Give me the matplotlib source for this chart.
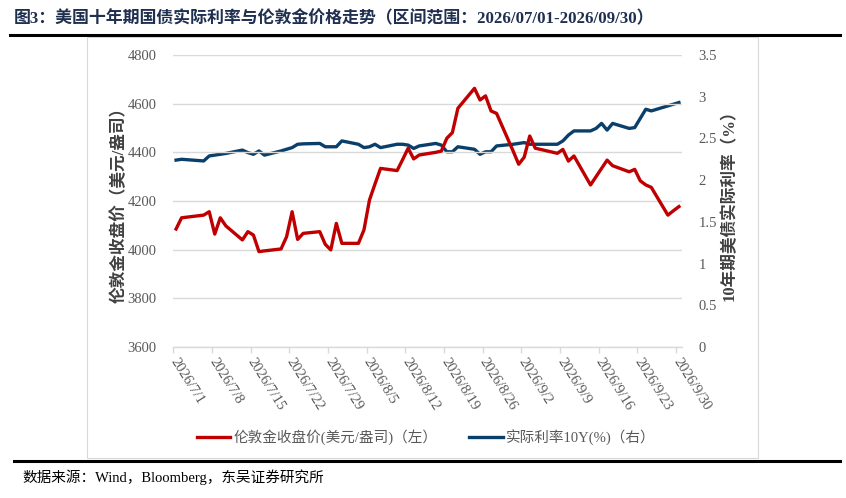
import datetime as dt
import matplotlib
matplotlib.use("Agg")
import matplotlib.pyplot as plt
import matplotlib.dates as mdates
from matplotlib.lines import Line2D
from matplotlib.patches import Rectangle

plt.rcParams['font.family'] = ['Liberation Serif', 'Noto Sans CJK SC']
plt.rcParams['axes.unicode_minus'] = False

# ---------------- data ----------------
dates = ["7/1", "7/2", "7/6", "7/7", "7/8", "7/9", "7/10", "7/13", "7/14", "7/15",
         "7/16", "7/17", "7/20", "7/21", "7/22", "7/23", "7/24", "7/27", "7/28", "7/29",
         "7/30", "7/31", "8/3", "8/4", "8/5", "8/6", "8/7", "8/10", "8/11", "8/12",
         "8/13", "8/14", "8/17", "8/18", "8/19", "8/20", "8/21", "8/24", "8/25", "8/26",
         "8/27", "8/28", "8/31", "9/1", "9/2", "9/3", "9/4", "9/8", "9/9", "9/10",
         "9/11", "9/14", "9/15", "9/16", "9/17", "9/18", "9/21", "9/22", "9/23", "9/24",
         "9/25", "9/28", "9/29", "9/30"]
gold = [4085, 4131, 4142, 4156, 4064, 4131, 4098, 4040, 4074, 4060,
        3992, 3995, 4003, 4053, 4156, 4042, 4067, 4074, 4022, 3999,
        4108, 4026, 4026, 4081, 4204, 4270, 4334, 4325, 4370, 4417,
        4373, 4389, 4400, 4405, 4458, 4481, 4581, 4663, 4615, 4632,
        4570, 4560, 4405, 4351, 4380, 4467, 4417, 4396, 4412, 4364,
        4385, 4266, 4300, 4334, 4368, 4345, 4320, 4330, 4283, 4266,
        4256, 4142, 4160, 4177]
real_rate = [2.24, 2.25, 2.23, 2.29, 2.30, 2.31, 2.32, 2.36, 2.33, 2.31,
             2.35, 2.30, 2.35, 2.37, 2.39, 2.43, 2.435, 2.44, 2.40, 2.40,
             2.40, 2.47, 2.43, 2.39, 2.40, 2.43, 2.39, 2.43, 2.43, 2.42,
             2.38, 2.41, 2.44, 2.42, 2.34, 2.34, 2.40, 2.37, 2.31, 2.34,
             2.34, 2.41, 2.43, 2.44, 2.45, 2.43, 2.43, 2.43, 2.47, 2.54,
             2.59, 2.59, 2.62, 2.68, 2.60, 2.68, 2.62, 2.63, 2.74, 2.85,
             2.83, 2.89, 2.91, 2.93]
tick_dates = ["7/1", "7/8", "7/15", "7/22", "7/29", "8/5", "8/12", "8/19",
              "8/26", "9/2", "9/9", "9/16", "9/23", "9/30"]
left_ticks = [3600, 3800, 4000, 4200, 4400, 4600, 4800]
right_ticks = [0, 0.5, 1, 1.5, 2, 2.5, 3, 3.5]
gold_label = "伦敦金收盘价(美元/盎司)（左）"
rate_label = "实际利率10Y(%)（右）"
title = "图3：美国十年期国债实际利率与伦敦金价格走势（区间范围：2026/07/01-2026/09/30）"
source = "数据来源：Wind，Bloomberg，东吴证券研究所"
year = 2026


def to_date(s):
    m, d = s.split("/")
    return dt.datetime(year, int(m), int(d))


# Excel date axis "between tick marks": each day plotted in middle of its slot
x = [mdates.date2num(to_date(s)) + 0.5 for s in dates]
xt = [mdates.date2num(to_date(s)) for s in tick_dates]
xt_labels = [f"{year}/{s}" for s in tick_dates]

RED = "#C00000"
BLUE = "#0B3F6B"
GRID = "#D9D9D9"
TXT = "#595959"

fig = plt.figure(figsize=(8.46, 4.98), dpi=100)
ax = fig.add_axes([173.3 / 846, 1 - 347 / 498, (681.7 - 173.3) / 846, (347 - 55) / 498])
ax2 = ax.twinx()

ax.plot(x, gold, color=RED, lw=2.4, solid_joinstyle='round', label=gold_label)
ax2.plot(x, real_rate, color=BLUE, lw=2.4, solid_joinstyle='round', label=rate_label)

ax.set_zorder(ax2.get_zorder() + 1)
ax.patch.set_visible(False)

ax.set_xlim(mdates.date2num(to_date("7/1")), mdates.date2num(to_date("7/1")) + 92)
ax.set_ylim(3600, 4800)
ax2.set_ylim(0, 3.5)
ax.set_yticks(left_ticks)
ax.set_yticklabels([str(v) for v in left_ticks])
ax2.set_yticks(right_ticks)
ax2.set_yticklabels([f"{v:g}" for v in right_ticks])
ax.set_xticks(xt)
ax.set_xticklabels(xt_labels, rotation=-58, ha='left', va='center',
                   rotation_mode='anchor')

for a in (ax, ax2):
    for sp in a.spines.values():
        sp.set_visible(False)
ax.spines['bottom'].set_visible(True)
ax.spines['bottom'].set_color(GRID)
ax.spines['bottom'].set_linewidth(1.0)

ax.yaxis.grid(True, color=GRID, lw=1.0)
ax.set_axisbelow(True)
ax.tick_params(axis='y', length=0, pad=12, labelsize=10.5, labelcolor=TXT)
ax2.tick_params(axis='y', length=0, pad=12, labelsize=10.5, labelcolor=TXT)
ax.tick_params(axis='x', length=4, width=1, color=GRID, pad=5, labelsize=10.5,
               labelcolor=TXT)

ax.set_ylabel("伦敦金收盘价（美元/盎司）", fontsize=12, fontweight='bold',
              color="#404040", labelpad=0)
ax2.set_ylabel("10年期美债实际利率（%）", fontsize=12, fontweight='bold',
               color="#404040", labelpad=3)

h1, l1 = ax.get_legend_handles_labels()
h2, l2 = ax2.get_legend_handles_labels()
fig.legend(h1 + h2, l1 + l2, loc='center', bbox_to_anchor=(426 / 846, 1 - 437 / 498),
           ncol=2, frameon=False, fontsize=10.5, labelcolor=TXT, handlelength=2.3,
           handletextpad=0.2, columnspacing=2.2)

# frame, rules, title, source
fig.add_artist(Rectangle((87 / 846, 1 - 458 / 498), (758 - 87) / 846, (458 - 37) / 498,
                         transform=fig.transFigure, fill=False, edgecolor=GRID, lw=0.8))
fig.add_artist(Line2D([10 / 846, 840 / 846], [1 - 35 / 498] * 2, transform=fig.transFigure,
                      color='black', lw=2.2))
fig.add_artist(Line2D([14 / 846, 840 / 846], [1 - 461 / 498] * 2, transform=fig.transFigure,
                      color='black', lw=2.2))
fig.text(14 / 846, 1 - 19 / 498, title, fontsize=12.2, fontweight='bold', color="#1F2F4F",
         ha='left', va='center')
fig.text(22 / 846, 1 - 477 / 498, source, fontsize=10.5, color='black',
         ha='left', va='center')

fig.savefig("out.png", dpi=100)
